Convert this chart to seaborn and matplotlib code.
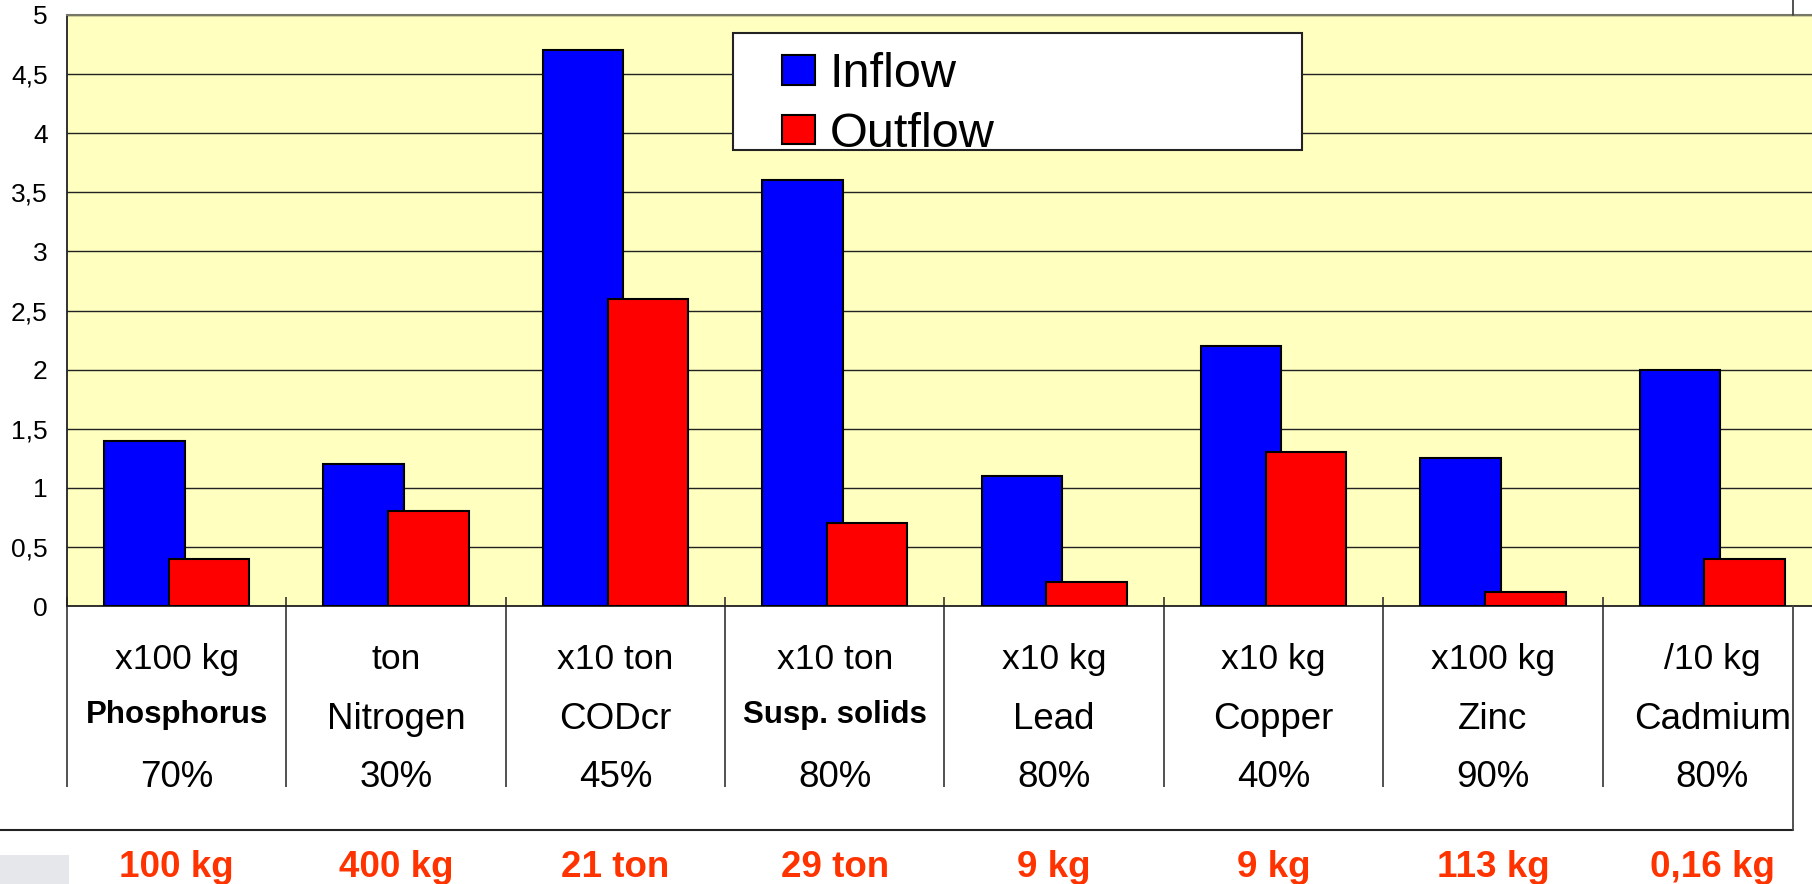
import numpy as np
import pandas as pd
import matplotlib
matplotlib.use('Agg')
import matplotlib.pyplot as plt
import matplotlib.transforms as mtransforms
from matplotlib.patches import Patch, Rectangle
from matplotlib.lines import Line2D
import seaborn as sns

# ==========================================
# DATA
# ==========================================
CATEGORIES = ['Phosphorus', 'Nitrogen', 'CODcr', 'Susp. solids', 'Lead', 'Copper', 'Zinc', 'Cadmium']
UNITS = ['x100 kg', 'ton', 'x10 ton', 'x10 ton', 'x10 kg', 'x10 kg', 'x100 kg', '/10 kg']
REDUCTION = ['70%', '30%', '45%', '80%', '80%', '40%', '90%', '80%']
REMOVED = ['100 kg', '400 kg', '21 ton', '29 ton', '9 kg', '9 kg', '113 kg', '0,16 kg']
INFLOW = [1.4, 1.2, 4.7, 3.6, 1.1, 2.2, 1.25, 2.0]
OUTFLOW = [0.4, 0.8, 2.6, 0.7, 0.2, 1.3, 0.12, 0.4]
BOLD_NAMES = ['Phosphorus', 'Susp. solids']
Y_TICKS = [0, 0.5, 1, 1.5, 2, 2.5, 3, 3.5, 4, 4.5, 5]

COLORS = {'Inflow': '#0000FF', 'Outflow': '#FF0000'}
W, H = 1812, 884

df = pd.DataFrame({
    'category': CATEGORIES * 2,
    'flow': ['Inflow'] * len(CATEGORIES) + ['Outflow'] * len(CATEGORIES),
    'value': INFLOW + OUTFLOW,
})

sns.set_style('white')
plt.rcParams['font.family'] = ['Liberation Sans', 'DejaVu Sans']
plt.rcParams['text.color'] = 'black'
plt.rcParams['ytick.color'] = 'black'
plt.rcParams['ytick.labelcolor'] = 'black'


def fy(px):
    # pixel row (from top) -> figure fraction
    return 1 - px / H


fig = plt.figure(figsize=(W / 100, H / 100), dpi=100)
ax = fig.add_axes([67 / W, fy(606), (1822 - 67) / W, (606 - 15) / H])
ax.set_facecolor('#FFFFC0')

sns.barplot(data=df, x='category', y='value', hue='flow', order=CATEGORIES,
            hue_order=['Inflow', 'Outflow'], palette=COLORS, saturation=1,
            width=0.59, gap=-0.244, edgecolor='black', linewidth=1.5,
            errorbar=None, legend=False, ax=ax, zorder=3)

# grid + axes styling
ax.set_axisbelow(True)
ax.yaxis.grid(True, color='#222222', linewidth=1.0)
ax.set_yticks(Y_TICKS)
ax.set_yticklabels([f'{v:g}'.replace('.', ',') for v in Y_TICKS], fontsize=19, color='black')
ax.tick_params(axis='y', direction='out', length=6, width=1.2, pad=8, colors='black')
ax.set_xticks([])
ax.set_xlabel('')
ax.set_ylabel('')
for side in ['left', 'bottom', 'right']:
    ax.spines[side].set_color('#222222')
    ax.spines[side].set_linewidth(1.3)
ax.spines['top'].set_color('#777766')
ax.spines['top'].set_linewidth(1.5)

# category labels below the chart
trans = mtransforms.blended_transform_factory(ax.transData, fig.transFigure)
for i, name in enumerate(CATEGORIES):
    ax.text(i, fy(669), UNITS[i], transform=trans, ha='center', va='baseline',
            fontsize=25.5, color='black')
    if name in BOLD_NAMES:
        ax.text(i, fy(723), name, transform=trans, ha='center', va='baseline',
                fontsize=22.5, fontweight='bold', color='black')
    else:
        ax.text(i, fy(729), name, transform=trans, ha='center', va='baseline',
                fontsize=26.5, color='black')
    ax.text(i, fy(787), REDUCTION[i], transform=trans, ha='center', va='baseline',
            fontsize=26.5, color='black')
    ax.text(i, fy(877), REMOVED[i], transform=trans, ha='center', va='baseline',
            fontsize=26.5, fontweight='bold', color='#FF3300')

# separators between categories
ax.vlines(np.arange(-0.5, len(CATEGORIES) - 1), fy(597), fy(787), transform=trans,
          colors='#333333', linewidth=1.2, clip_on=False)

# legend with its own white frame
frame = Rectangle((733 / W, fy(150)), (1302 - 733) / W, (150 - 33) / H,
                  transform=fig.transFigure, facecolor='white', edgecolor='#222222',
                  linewidth=1.5, zorder=5)
ax.add_patch(frame)
handles = [Patch(facecolor=COLORS[k], edgecolor='black', linewidth=1.5) for k in ['Inflow', 'Outflow']]
leg = ax.legend(handles, ['Inflow', 'Outflow'], loc='upper left',
                bbox_to_anchor=(782 / W, fy(52)), bbox_transform=fig.transFigure,
                frameon=False, fontsize=35, borderpad=0, borderaxespad=0,
                handlelength=0.68, handleheight=0.56, handletextpad=0.3,
                labelspacing=0.3)
for t in leg.get_texts():
    t.set_color('black')
leg.set_zorder(6)

# slide frame lines around the chart
fig.add_artist(Line2D([0, 1793 / W], [fy(830), fy(830)], color='#222222', linewidth=1.5))
fig.add_artist(Line2D([1793 / W, 1793 / W], [fy(606), fy(830)], color='#444444', linewidth=1.3))
fig.add_artist(Line2D([1793 / W, 1793 / W], [1, fy(15)], color='#444444', linewidth=1.3))
fig.add_artist(Rectangle((0, 0), 69 / W, 29 / H, transform=fig.transFigure,
                         facecolor='#E6E7EB', edgecolor='none'))

ax.set_xlim(-0.5, len(CATEGORIES) - 0.5)
ax.set_ylim(0, 5)

fig.savefig('out.png', dpi=100, facecolor='white')
